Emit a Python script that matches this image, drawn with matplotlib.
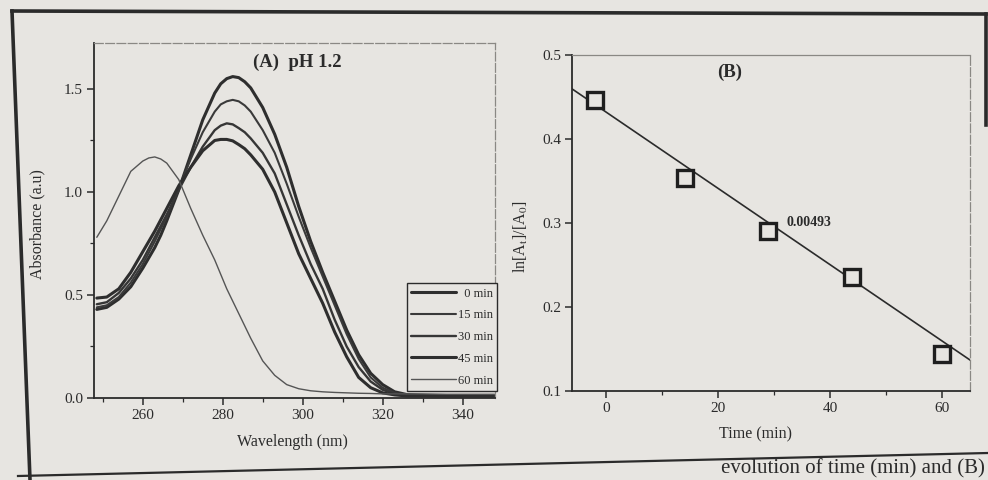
import matplotlib
matplotlib.use('Agg')
import matplotlib.pyplot as plt
import numpy as np
from matplotlib.lines import Line2D
from matplotlib.ticker import MultipleLocator, FormatStrFormatter

plt.rcParams['font.family'] = ['Liberation Serif', 'DejaVu Serif']
plt.rcParams['mathtext.fontset'] = 'stix'

# ---------------- data ----------------
wavelength = [248.5, 251, 254, 257, 260, 261.5, 263, 264.5, 266, 269, 272, 275, 278,
              279.5, 281, 282.5, 284, 285.5, 287, 290, 293, 296, 299, 302, 305, 308,
              311, 314, 317, 320, 323, 326, 330, 336, 342, 348]
abs_0min = [0.43, 0.44, 0.48, 0.54, 0.63, 0.68, 0.73, 0.79, 0.86, 1.01, 1.18, 1.35, 1.48,
            1.525, 1.55, 1.56, 1.555, 1.535, 1.505, 1.41, 1.28, 1.12, 0.93, 0.76, 0.61,
            0.47, 0.33, 0.21, 0.12, 0.065, 0.03, 0.017, 0.012, 0.01, 0.01, 0.01]
abs_15min = [0.44, 0.45, 0.49, 0.56, 0.65, 0.705, 0.76, 0.82, 0.88, 1.02, 1.16, 1.29, 1.39,
             1.425, 1.44, 1.447, 1.44, 1.42, 1.39, 1.30, 1.19, 1.04, 0.88, 0.73, 0.59,
             0.45, 0.31, 0.19, 0.10, 0.05, 0.025, 0.014, 0.01, 0.01, 0.01, 0.01]
abs_30min = [0.455, 0.465, 0.51, 0.58, 0.67, 0.725, 0.78, 0.835, 0.89, 1.01, 1.12, 1.22,
             1.30, 1.322, 1.333, 1.328, 1.31, 1.29, 1.26, 1.19, 1.09, 0.94, 0.79, 0.65,
             0.53, 0.38, 0.25, 0.15, 0.08, 0.04, 0.02, 0.012, 0.01, 0.01, 0.01, 0.01]
abs_45min = [0.485, 0.49, 0.53, 0.61, 0.71, 0.76, 0.81, 0.865, 0.92, 1.03, 1.12, 1.20,
             1.25, 1.255, 1.255, 1.248, 1.23, 1.21, 1.18, 1.11, 1.00, 0.85, 0.70, 0.58,
             0.46, 0.32, 0.20, 0.10, 0.05, 0.025, 0.015, 0.01, 0.01, 0.01, 0.01, 0.01]
abs_60min = [0.78, 0.86, 0.98, 1.10, 1.15, 1.165, 1.17, 1.16, 1.14, 1.06, 0.92, 0.79,
             0.67, 0.60, 0.53, 0.47, 0.41, 0.35, 0.29, 0.18, 0.11, 0.065, 0.045, 0.035,
             0.03, 0.027, 0.025, 0.023, 0.022, 0.02, 0.02, 0.02, 0.02, 0.018, 0.018,
             0.018]
series_labels = ['  0 min', '15 min', '30 min', '45 min', '60 min']

time_min = [-2, 14, 29, 44, 60]
ln_ratio = [0.447, 0.354, 0.291, 0.236, 0.144]
fit_intercept = 0.432
fit_slope = -0.00454
slope_label = '0.00493'

# ---------------- figure ----------------
W, H = 988, 480
BG = '#e7e5e1'
INK = '#2b2b2b'
fig = plt.figure(figsize=(W / 100, H / 100), dpi=100, facecolor=BG)


def px_axes(l, t, r, b):
    return fig.add_axes([l / W, 1 - b / H, (r - l) / W, (b - t) / H])


def style_axes(ax):
    ax.set_facecolor(BG)
    for s in ['left', 'bottom']:
        ax.spines[s].set_color(INK)
        ax.spines[s].set_linewidth(1.3)
    for s in ['top', 'right']:
        ax.spines[s].set_color('#8a8884')
        ax.spines[s].set_linewidth(0.9)
        ax.spines[s].set_linestyle((0, (7, 2)))
    ax.tick_params(which='both', direction='out', color=INK, labelcolor=INK,
                   labelsize=11, top=False, right=False)
    ax.tick_params(which='major', length=5, width=1.1, pad=3)
    ax.tick_params(which='minor', length=3, width=0.9)


# ---------- Panel A ----------
axA = px_axes(94, 43, 495, 398)
style_axes(axA)
series = [abs_0min, abs_15min, abs_30min, abs_45min, abs_60min]
widths = [2.2, 1.5, 1.7, 2.2, 1.0]
colors = ['#2e2e2e', '#3a3a3a', '#363636', '#2e2e2e', '#555555']
for vals, lab, lw, c in zip(series, series_labels, widths, colors):
    axA.plot(wavelength, vals, color=c, lw=lw, label=lab, solid_capstyle='round',
             solid_joinstyle='round')
axA.set_xlim(247.8, 348.1)
axA.set_ylim(0, 1.723)
axA.xaxis.set_major_locator(MultipleLocator(20))
axA.xaxis.set_minor_locator(MultipleLocator(10))
axA.yaxis.set_major_locator(MultipleLocator(0.5))
axA.yaxis.set_minor_locator(MultipleLocator(0.25))
axA.yaxis.set_major_formatter(FormatStrFormatter('%.1f'))
axA.set_xticks([260, 280, 300, 320, 340])
axA.set_xlabel('Wavelength (nm)', fontsize=11.5, color=INK)
axA.set_ylabel('Absorbance (a.u)', fontsize=11.5, color=INK)
axA.xaxis.set_label_coords(0.494, -0.10)
axA.yaxis.set_label_coords(-0.122, 0.49)
axA.text(298.7, 1.63, '(A)  pH 1.2', ha='center', va='center', fontsize=13.5,
         fontweight='bold', color=INK)
leg = axA.legend(loc='lower right', bbox_to_anchor=(1.005, 0.02), fontsize=9,
                 frameon=True, fancybox=False, edgecolor=INK, facecolor=BG,
                 framealpha=1, handlelength=3.6, handletextpad=0.1,
                 labelspacing=0.78, borderpad=0.35, borderaxespad=0)
leg.get_frame().set_linewidth(1.0)
for t in leg.get_texts():
    t.set_color(INK)

# ---------- Panel B ----------
axB = px_axes(572, 55, 970, 391)
style_axes(axB)
axB.spines['top'].set_linestyle('-')
axB.set_xlim(-6.1, 65)
axB.set_ylim(0.1, 0.5)
xs = np.array(axB.get_xlim())
axB.plot(xs, fit_intercept + fit_slope * xs, color=INK, lw=1.2)
axB.plot(time_min, ln_ratio, linestyle='none', marker='s', markersize=11,
         markerfacecolor=BG, markeredgecolor='#1f1f1f', markeredgewidth=2.4)
axB.xaxis.set_major_locator(MultipleLocator(20))
axB.xaxis.set_minor_locator(MultipleLocator(10))
axB.yaxis.set_major_locator(MultipleLocator(0.1))
axB.yaxis.set_major_formatter(FormatStrFormatter('%.1f'))
axB.set_xlabel('Time (min)', fontsize=11.5, color=INK)
axB.set_ylabel(r'ln[A$_\mathrm{t}$]/[A$_\mathrm{0}$]', fontsize=11.5, color=INK)
axB.xaxis.set_label_coords(0.46, -0.105)
axB.yaxis.set_label_coords(-0.106, 0.46)
axB.text(22.1, 0.479, '(B)', ha='center', va='center', fontsize=13.5,
         fontweight='bold', color=INK)
axB.text(32.3, 0.300, slope_label, ha='left', va='center', fontsize=10,
         fontweight='bold', color=INK)


# ---------- page frame and caption ----------
def fig_line(x0, y0, x1, y1, lw):
    fig.add_artist(Line2D([x0 / W, x1 / W], [1 - y0 / H, 1 - y1 / H],
                          transform=fig.transFigure, color=INK, lw=lw))


fig_line(12, 11, 986, 14, 2.6)
fig_line(12, 11, 30, 480, 2.6)
fig_line(986, 14, 986, 125, 2.6)
fig_line(18, 476, 988, 453, 1.6)
fig.text(985 / W, 1 - 459 / H, 'evolution of time (min) and (B)', ha='right',
         va='top', fontsize=15, color=INK)

fig.savefig('out.png', dpi=100, facecolor=BG)
